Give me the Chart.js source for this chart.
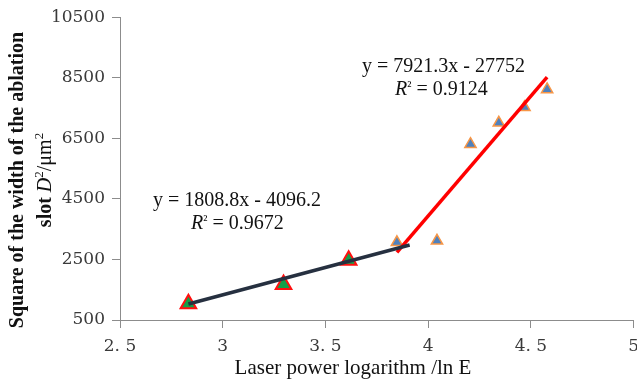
<!DOCTYPE html>
<html>
<head>
<meta charset="utf-8">
<script src="https://cdn.jsdelivr.net/npm/chart.js@4.4.1/dist/chart.umd.min.js"></script>
<style>
html,body{margin:0;padding:0;background:#fff;overflow:hidden;}
#wrap{position:relative;width:637px;height:383px;overflow:hidden;}
canvas{display:block;}
</style>
</head>
<body>
<div id="wrap"><canvas id="c" width="647" height="383"></canvas></div>
<script>
// ---- data ----
const greenX = [2.833, 3.296, 3.613];
const greenY = [1036, 1674, 2470];
const blueX = [3.848, 4.043, 4.206, 4.344, 4.469, 4.579];
const blueY = [3065, 3115, 6305, 7012, 7522, 8114];
const fit1X = [2.833, 3.91];
const fit1Y = [1028, 2976];
const fit2X = [3.848, 4.579];
const fit2Y = [2730, 8520];
const xTicks = [2.5, 3, 3.5, 4, 4.5, 5];
const xTickLabels = ['2. 5', '3', '3. 5', '4', '4. 5', '5'];
const yTicks = [500, 2500, 4500, 6500, 8500, 10500];
const eq1 = 'y = 1808.8x - 4096.2';
const r1 = '0.9672';
const eq2 = 'y = 7921.3x - 27752';
const r2 = '0.9124';
const xTitle = 'Laser power logarithm /ln E';
const yTitle1 = 'Square of the width of the ablation';

const pts = (xs, ys) => xs.map((x, i) => ({x: x, y: ys[i]}));
const SERIF = '"Liberation Serif", "DejaVu Serif", serif';
const TICKFONT = '"DejaVu Serif", serif';

const textPlugin = {
  id: 'texts',
  afterDraw(chart) {
    const ctx = chart.ctx;
    ctx.save();
    ctx.fillStyle = '#111';
    ctx.textBaseline = 'middle';
    ctx.textAlign = 'left';
    const drawR = (x, y, val) => {
      ctx.font = 'italic 20px ' + SERIF;
      ctx.fillText('R', x, y);
      let w = ctx.measureText('R').width;
      ctx.font = '14px ' + SERIF;
      ctx.fillText('²', x + w, y - 3);
      w += ctx.measureText('²').width;
      ctx.font = '20px ' + SERIF;
      ctx.fillText(' = ' + val, x + w, y);
    };
    ctx.font = '20px ' + SERIF;
    ctx.fillText(eq1, 153, 201);
    drawR(191, 224, r1);
    ctx.font = '20px ' + SERIF;
    ctx.fillText(eq2, 362, 67);
    drawR(395, 90, r2);
    ctx.font = '21px ' + SERIF;
    ctx.textAlign = 'center';
    ctx.fillText(xTitle, 353, 368);
    ctx.save();
    ctx.translate(18, 180);
    ctx.rotate(-Math.PI / 2);
    ctx.font = 'bold 20px ' + SERIF;
    ctx.textAlign = 'center';
    ctx.fillText(yTitle1, 0, 0);
    ctx.restore();
    ctx.save();
    ctx.translate(46, 180);
    ctx.rotate(-Math.PI / 2);
    const segs = [
      {t: 'slot ', f: 'bold 20px ' + SERIF, dy: 0},
      {t: 'D', f: 'italic 20px ' + SERIF, dy: 0},
      {t: '2', f: '13px ' + SERIF, dy: -6},
      {t: '/\u03bcm', f: '20px ' + SERIF, dy: 0},
      {t: '2', f: '13px ' + SERIF, dy: -6}
    ];
    let total = 0;
    segs.forEach(s => { ctx.font = s.f; s.w = ctx.measureText(s.t).width; total += s.w; });
    let cx = -total / 2;
    ctx.textAlign = 'left';
    segs.forEach(s => { ctx.font = s.f; ctx.fillText(s.t, cx, s.dy); cx += s.w; });
    ctx.restore();
    ctx.restore();
  }
};

new Chart(document.getElementById('c'), {
  type: 'scatter',
  data: {
    datasets: [
      {data: pts(fit1X, fit1Y), showLine: true, borderColor: '#263040', borderWidth: 3.5, pointRadius: 0, fill: false},
      {data: pts(fit2X, fit2Y), showLine: true, borderColor: '#ff0000', borderWidth: 3.5, pointRadius: 0, fill: false},
      {data: pts(greenX, greenY), pointStyle: 'triangle', pointRadius: 9, backgroundColor: '#13a048', borderColor: '#ff1010', borderWidth: 2},
      {data: pts(blueX, blueY), pointStyle: 'triangle', pointRadius: 6.5, backgroundColor: '#4f81bd', borderColor: '#f79646', borderWidth: 1.5}
    ]
  },
  options: {
    responsive: false,
    maintainAspectRatio: false,
    animation: false,
    devicePixelRatio: 1,
    layout: {padding: {top: 16, left: 0, right: 0, bottom: 0}},
    plugins: {legend: {display: false}, tooltip: {enabled: false}},
    scales: {
      x: {
        type: 'linear', min: 2.5, max: 5,
        afterBuildTicks: s => { s.ticks = xTicks.map(v => ({value: v})); },
        afterFit: s => { s.height = 63; },
        ticks: {
          callback: (v) => { const i = xTicks.indexOf(v); return i >= 0 ? xTickLabels[i] : ''; },
          font: {family: TICKFONT, size: 17}, color: '#3a3a3a', padding: 8, maxRotation: 0, autoSkip: false
        },
        grid: {drawOnChartArea: false, drawTicks: true, tickLength: 8, color: '#8c8c8c'},
        border: {display: true, color: '#8c8c8c', width: 1}
      },
      y: {
        type: 'linear', min: 500, max: 10500,
        afterBuildTicks: s => { s.ticks = yTicks.map(v => ({value: v})); },
        afterFit: s => { s.width = 120; },
        ticks: {
          callback: (v) => String(v),
          font: {family: TICKFONT, size: 17}, color: '#3a3a3a', padding: 7, autoSkip: false
        },
        grid: {drawOnChartArea: false, drawTicks: true, tickLength: 8, color: '#8c8c8c'},
        border: {display: true, color: '#8c8c8c', width: 1}
      }
    }
  },
  plugins: [textPlugin]
});
</script>
</body>
</html>
